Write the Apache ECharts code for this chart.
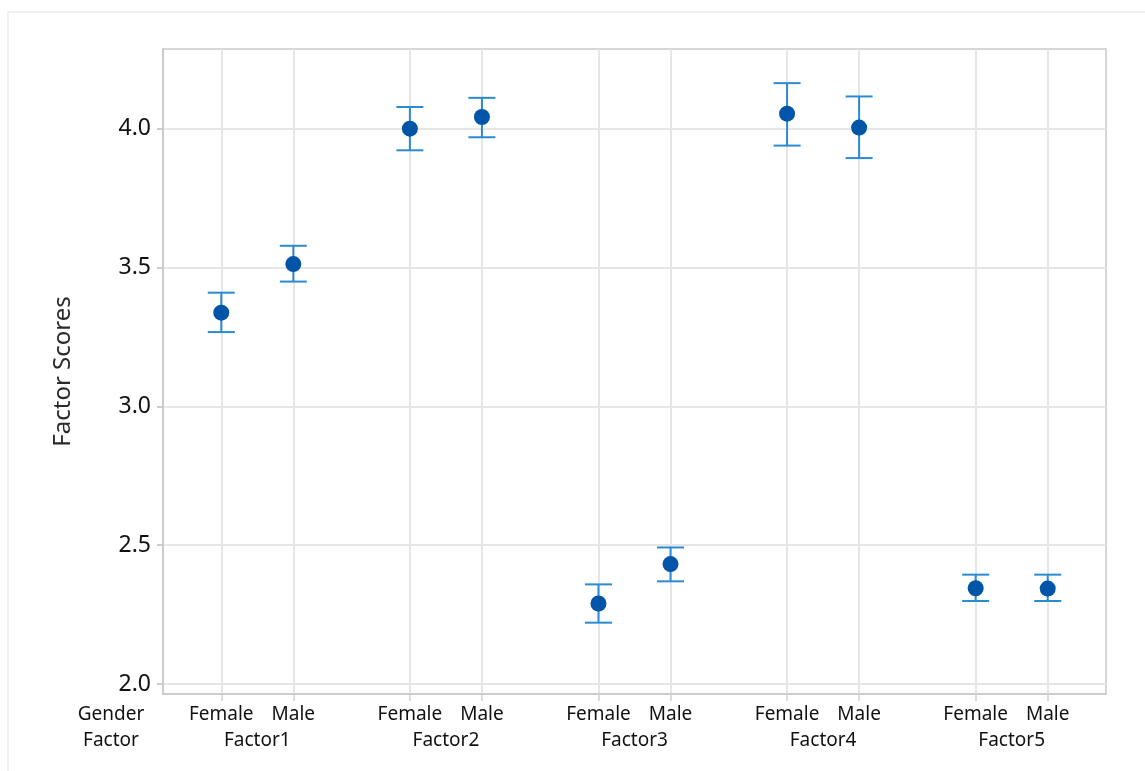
<!DOCTYPE html>
<html>
<head>
<meta charset="utf-8">
<script src="https://cdn.jsdelivr.net/npm/echarts@6/dist/echarts.min.js"></script>
<style>
  html, body { margin: 0; padding: 0; background: #ffffff; }
  #chart { width: 1145px; height: 771px; }
</style>
</head>
<body>
<div id="chart"></div>
<script>
// Group and gender labels
const factors = ['Factor1', 'Factor2', 'Factor3', 'Factor4', 'Factor5'];
const genders = ['Female', 'Male'];

// Mean factor scores with interval bounds, per factor
const femaleMean  = [3.338, 4.001, 2.290, 4.055, 2.345];
const femaleUpper = [3.410, 4.079, 2.359, 4.165, 2.394];
const femaleLower = [3.268, 3.923, 2.221, 3.940, 2.299];
const maleMean    = [3.513, 4.043, 2.432, 4.005, 2.344];
const maleUpper   = [3.579, 4.112, 2.492, 4.117, 2.394];
const maleLower   = [3.450, 3.970, 2.370, 3.895, 2.299];

// Y-axis tick values
const yTicks = [2.0, 2.5, 3.0, 3.5, 4.0];

// Offset of each gender from its factor's centre, in factor-index units
const genderOffset = [-0.191, 0.191];

const FONT = '"Noto Sans", "Open Sans", sans-serif';
const TEXT = '#111111';
const GRID_LINE = '#e6e6e6';
const FRAME = '#c9c9c9';
const BAR_COLOR = '#2b8bd0';
const POINT_COLOR = '#0055a8';

// Build point records: [x, mean, lower, upper]
const rows = [];
factors.forEach((f, i) => {
  rows.push([i + genderOffset[0], femaleMean[i], femaleLower[i], femaleUpper[i]]);
  rows.push([i + genderOffset[1], maleMean[i], maleLower[i], maleUpper[i]]);
});
const genderTickValues = rows.map(r => r[0]);
const factorTickValues = factors.map((f, i) => i);

const chart = echarts.init(document.getElementById('chart'), null, { renderer: 'canvas' });

const option = {
  backgroundColor: '#ffffff',
  animation: false,
  grid: {
    left: 163, top: 49, right: 39, bottom: 77,
    show: true, borderColor: FRAME, borderWidth: 1.5, backgroundColor: 'transparent'
  },
  xAxis: [
    {
      type: 'value', min: -0.5, max: 4.5,
      axisLine: { show: true, onZero: false, lineStyle: { color: FRAME, width: 1.5 } },
      axisTick: { show: true, customValues: genderTickValues, length: 7, lineStyle: { color: '#cfcfcf', width: 1.5 } },
      axisLabel: {
        show: true, customValues: genderTickValues, margin: 11,
        fontFamily: FONT, fontSize: 19, color: TEXT,
        formatter: v => {
          const idx = genderTickValues.findIndex(t => Math.abs(t - v) < 1e-6);
          return genders[idx % 2];
        }
      },
      splitLine: { show: true, lineStyle: { color: GRID_LINE, width: 2 } }
    },
    {
      type: 'value', min: -0.5, max: 4.5, position: 'bottom', offset: 0,
      axisLine: { show: false, onZero: false }, axisTick: { show: false }, splitLine: { show: false },
      axisLabel: {
        show: true, customValues: factorTickValues, margin: 37,
        fontFamily: FONT, fontSize: 19, color: TEXT,
        formatter: v => factors[Math.round(v)]
      }
    }
  ],
  yAxis: {
    type: 'value', min: 1.964, max: 4.288,
    name: 'Factor Scores', nameLocation: 'middle', nameGap: 88,
    nameTextStyle: { fontFamily: FONT, fontSize: 24, color: '#2a2a2a' },
    axisLine: { show: true, onZero: false, lineStyle: { color: FRAME, width: 1.5 } },
    axisTick: { show: true, customValues: yTicks, length: 6, lineStyle: { color: '#bdbdbd', width: 1.5 } },
    axisLabel: {
      customValues: yTicks, margin: 12,
      fontFamily: FONT, fontSize: 23, color: TEXT,
      formatter: v => v.toFixed(1)
    },
    splitLine: { show: true, lineStyle: { color: GRID_LINE, width: 2 } }
  },
  graphic: [
    // Light outer frame (top and left edges)
    { type: 'line', shape: { x1: 8, y1: 12, x2: 1145, y2: 12 }, style: { stroke: '#ececec', lineWidth: 1.5 }, silent: true },
    { type: 'line', shape: { x1: 8, y1: 12, x2: 8, y2: 771 }, style: { stroke: '#ececec', lineWidth: 1.5 }, silent: true },
    // Row captions for the two-level x axis
    { type: 'text', x: 111, y: 715, style: { text: 'Gender', fontFamily: FONT, fontSize: 19, fill: TEXT, align: 'center', verticalAlign: 'middle' } },
    { type: 'text', x: 111, y: 741, style: { text: 'Factor', fontFamily: FONT, fontSize: 19, fill: TEXT, align: 'center', verticalAlign: 'middle' } }
  ],
  series: [
    {
      type: 'custom',
      name: 'Interval',
      data: rows,
      encode: { x: 0, y: [2, 3] },
      z: 2,
      renderItem: (params, api) => {
        const x = api.value(0);
        const lo = api.coord([x, api.value(2)]);
        const hi = api.coord([x, api.value(3)]);
        const half = 13.5;
        const style = { stroke: BAR_COLOR, lineWidth: 2, fill: null };
        return {
          type: 'group',
          children: [
            { type: 'line', shape: { x1: lo[0], y1: lo[1], x2: hi[0], y2: hi[1] }, style },
            { type: 'line', shape: { x1: hi[0] - half, y1: hi[1], x2: hi[0] + half, y2: hi[1] }, style },
            { type: 'line', shape: { x1: lo[0] - half, y1: lo[1], x2: lo[0] + half, y2: lo[1] }, style }
          ]
        };
      }
    },
    {
      type: 'scatter',
      name: 'Mean',
      data: rows.map(r => [r[0], r[1]]),
      symbol: 'circle',
      symbolSize: 16,
      itemStyle: { color: POINT_COLOR, opacity: 1 },
      z: 3
    }
  ]
};

chart.setOption(option);
</script>
</body>
</html>
